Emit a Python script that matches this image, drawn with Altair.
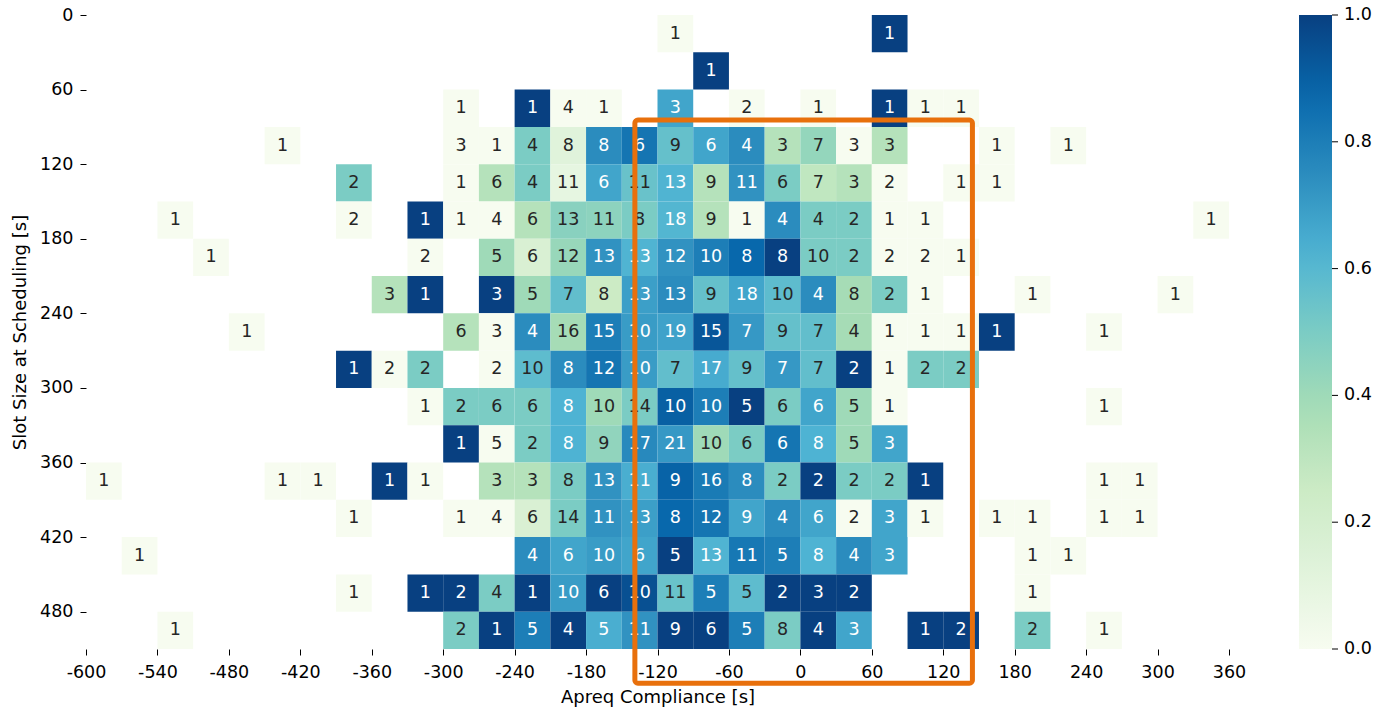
import altair as alt
import pandas as pd

# Slot-size bins (row starts, seconds) and compliance bins (column starts, seconds), 30 s wide
SLOT_BINS = [0, 30, 60, 90, 120, 150, 180, 210, 240, 270, 300, 330, 360, 390, 420, 450, 480]
BIN = 30

# Per slot-size row: compliance bin starts, flight counts, and colour share
row_comp = [
    [-120, 60],
    [-90],
    [-300, -240, -210, -180, -120, -60, 0, 60, 90, 120],
    [-450, -300, -270, -240, -210, -180, -150, -120, -90, -60, -30, 0, 30, 60, 150, 210],
    [-390, -300, -270, -240, -210, -180, -150, -120, -90, -60, -30, 0, 30, 60, 120, 150],
    [-540, -390, -330, -300, -270, -240, -210, -180, -150, -120, -90, -60, -30, 0, 30, 60, 90, 330],
    [-510, -330, -270, -240, -210, -180, -150, -120, -90, -60, -30, 0, 30, 60, 90, 120],
    [-360, -330, -270, -240, -210, -180, -150, -120, -90, -60, -30, 0, 30, 60, 90, 180, 300],
    [-480, -300, -270, -240, -210, -180, -150, -120, -90, -60, -30, 0, 30, 60, 90, 120, 150, 240],
    [-390, -360, -330, -270, -240, -210, -180, -150, -120, -90, -60, -30, 0, 30, 60, 90, 120],
    [-330, -300, -270, -240, -210, -180, -150, -120, -90, -60, -30, 0, 30, 60, 240],
    [-300, -270, -240, -210, -180, -150, -120, -90, -60, -30, 0, 30, 60],
    [-600, -450, -420, -360, -330, -270, -240, -210, -180, -150, -120, -90, -60, -30, 0, 30, 60, 90, 240, 270],
    [-390, -300, -270, -240, -210, -180, -150, -120, -90, -60, -30, 0, 30, 60, 90, 150, 180, 240, 270],
    [-570, -240, -210, -180, -150, -120, -90, -60, -30, 0, 30, 60, 180, 210],
    [-390, -330, -300, -270, -240, -210, -180, -150, -120, -90, -60, -30, 0, 30, 180],
    [-540, -300, -270, -240, -210, -180, -150, -120, -90, -60, -30, 0, 30, 90, 120, 180, 240],
]
row_count = [
    [1, 1],
    [1],
    [1, 1, 4, 1, 3, 2, 1, 1, 1, 1],
    [1, 3, 1, 4, 8, 8, 6, 9, 6, 4, 3, 7, 3, 3, 1, 1],
    [2, 1, 6, 4, 11, 6, 11, 13, 9, 11, 6, 7, 3, 2, 1, 1],
    [1, 2, 1, 1, 4, 6, 13, 11, 8, 18, 9, 1, 4, 4, 2, 1, 1, 1],
    [1, 2, 5, 6, 12, 13, 13, 12, 10, 8, 8, 10, 2, 2, 2, 1],
    [3, 1, 3, 5, 7, 8, 13, 13, 9, 18, 10, 4, 8, 2, 1, 1, 1],
    [1, 6, 3, 4, 16, 15, 10, 19, 15, 7, 9, 7, 4, 1, 1, 1, 1, 1],
    [1, 2, 2, 2, 10, 8, 12, 10, 7, 17, 9, 7, 7, 2, 1, 2, 2],
    [1, 2, 6, 6, 8, 10, 14, 10, 10, 5, 6, 6, 5, 1, 1],
    [1, 5, 2, 8, 9, 17, 21, 10, 6, 6, 8, 5, 3],
    [1, 1, 1, 1, 1, 3, 3, 8, 13, 11, 9, 16, 8, 2, 2, 2, 2, 1, 1, 1],
    [1, 1, 4, 6, 14, 11, 13, 8, 12, 9, 4, 6, 2, 3, 1, 1, 1, 1, 1],
    [1, 4, 6, 10, 6, 5, 13, 11, 5, 8, 4, 3, 1, 1],
    [1, 1, 2, 4, 1, 10, 6, 10, 11, 5, 5, 2, 3, 2, 1],
    [1, 2, 1, 5, 4, 5, 11, 9, 6, 5, 8, 4, 3, 1, 2, 2, 1],
]
row_share = [
    [0, 1],
    [1],
    [0, 1, 0, 0, 0.67, 0, 0, 1, 0, 0],
    [0, 0, 0, 0.5, 0.125, 0.75, 0.83, 0.56, 0.67, 0.75, 0.33, 0.43, 0, 0.33, 0, 0],
    [0.5, 0, 0.33, 0.5, 0.09, 0.67, 0.55, 0.62, 0.33, 0.73, 0.5, 0.29, 0.33, 0, 0, 0],
    [0, 0, 1, 0, 0, 0.33, 0.46, 0.45, 0.5, 0.61, 0.33, 0, 0.75, 0.5, 0.5, 0, 0, 0],
    [0, 0, 0.4, 0.17, 0.42, 0.73, 0.62, 0.73, 0.8, 0.875, 1, 0.5, 0.5, 0, 0, 0],
    [0.33, 1, 1, 0.4, 0.57, 0.25, 0.69, 0.75, 0.56, 0.67, 0.58, 0.75, 0.38, 0.5, 0, 0, 0],
    [0, 0.33, 0, 0.75, 0.38, 0.8, 0.7, 0.68, 0.93, 0.71, 0.56, 0.57, 0.38, 0, 0, 0, 1, 0],
    [1, 0, 0.5, 0, 0.58, 0.75, 0.83, 0.7, 0.57, 0.65, 0.56, 0.71, 0.57, 1, 0, 0.5, 0.5],
    [0, 0.5, 0.5, 0.5, 0.625, 0.4, 0.5, 0.9, 0.8, 1, 0.5, 0.67, 0.4, 0, 0],
    [1, 0, 0.5, 0.625, 0.44, 0.76, 0.71, 0.4, 0.5, 0.83, 0.625, 0.4, 0.67],
    [0, 0, 0, 1, 0, 0.33, 0.33, 0.5, 0.73, 0.64, 0.89, 0.81, 0.75, 0.5, 1, 0.5, 0.5, 1, 0, 0],
    [0, 0, 0, 0.17, 0.5, 0.73, 0.69, 0.875, 0.83, 0.67, 0.75, 0.67, 0, 0.67, 0, 0, 0, 0, 0],
    [0, 0.75, 0.67, 0.7, 0.67, 1, 0.62, 0.82, 0.8, 0.625, 0.75, 0.67, 0, 0],
    [0, 1, 1, 0.5, 1, 0.7, 1, 0.95, 0.55, 0.8, 0.58, 1, 1, 1, 0],
    [0, 0.5, 1, 0.8, 1, 0.64, 0.73, 1, 1, 0.8, 0.5, 1, 0.67, 1, 1, 0.5, 0],
]

# Highlighted compliance window (data units)
box_x = [-139, 144.5]
box_y = [84.5, 537.5]

# GnBu colour ramp, evenly spaced stops
GNBU = ["#f7fcf0", "#e0f3db", "#ccebc5", "#a8ddb5", "#7bccc4",
        "#4eb3d3", "#2b8cbe", "#0868ac", "#084081"]
STOPS = [i / 8 for i in range(9)]
CBAR_TICKS = [0.0, 0.2, 0.4, 0.6, 0.8, 1.0]
FONT = "DejaVu Sans"
TXT = 17.5


def _rgb(h):
    return [int(h[i:i + 2], 16) / 255 for i in (1, 3, 5)]


def ramp(v):
    p = min(max(v, 0), 1) * 8
    i = min(int(p), 7)
    t = p - i
    a, b = _rgb(GNBU[i]), _rgb(GNBU[i + 1])
    return [a[k] + (b[k] - a[k]) * t for k in range(3)]


def text_colour(v):
    lin = [c / 12.92 if c <= 0.03928 else ((c + 0.055) / 1.055) ** 2.4 for c in ramp(v)]
    lum = 0.2126 * lin[0] + 0.7152 * lin[1] + 0.0722 * lin[2]
    return "#262626" if lum > 0.408 else "white"


records = []
for slot, comps, counts, shares in zip(SLOT_BINS, row_comp, row_count, row_share):
    for c, n, s in zip(comps, counts, shares):
        records.append({
            "comp": c, "comp_end": c + BIN, "comp_mid": c + BIN / 2,
            "slot": slot, "slot_end": slot + BIN, "slot_mid": slot + BIN / 2,
            "flights": n, "share": s, "txt": text_colour(s),
        })
df = pd.DataFrame(records)

x_scale = alt.Scale(domain=[-600, 360], nice=False, zero=False)
y_scale = alt.Scale(domain=[0, 510], nice=False, zero=False, reverse=True)

cells = alt.Chart(df).mark_rect().encode(
    x=alt.X("comp:Q", scale=x_scale,
            axis=alt.Axis(values=list(range(-600, 361, 60)), labelExpr="'' + datum.value",
                          labelFlush=False, title="Apreq Compliance [s]",
                          labelPadding=8, titlePadding=8)),
    x2="comp_end:Q",
    y=alt.Y("slot:Q", scale=y_scale,
            axis=alt.Axis(values=list(range(0, 481, 60)), labelExpr="'' + datum.value",
                          labelFlush=False, title="Slot Size at Scheduling [s]",
                          labelPadding=7, titlePadding=10)),
    y2="slot_end:Q",
    color=alt.Color("share:Q",
                    scale=alt.Scale(domain=STOPS, range=GNBU, interpolate="rgb"),
                    legend=alt.Legend(orient="none", legendX=1213, legendY=0, direction="vertical",
                                      gradientLength=634, gradientThickness=33,
                                      gradientStrokeWidth=0, labelExpr="''", labelOpacity=0,
                                      title=None)),
)

labels = alt.Chart(df).mark_text(font=FONT, fontSize=TXT, baseline="middle", align="center").encode(
    x=alt.X("comp_mid:Q", scale=x_scale),
    y=alt.Y("slot_mid:Q", scale=y_scale),
    text="flights:Q",
    color=alt.Color("txt:N", scale=None),
)

box = alt.Chart(pd.DataFrame({"x0": [box_x[0]], "x1": [box_x[1]],
                              "y0": [box_y[0]], "y1": [box_y[1]]})).mark_rect(
    fillOpacity=0, stroke="#e8700c", strokeWidth=5, cornerRadius=3
).encode(
    x=alt.X("x0:Q", scale=x_scale), x2="x1:Q",
    y=alt.Y("y0:Q", scale=y_scale), y2="y1:Q",
)

# Colour-bar ticks and labels on their own 0..1 scale
cbar_df = pd.DataFrame({"v": CBAR_TICKS})
cbar_y = alt.Y("v:Q", scale=alt.Scale(domain=[0, 1]), axis=None)
cbar_ticks = alt.Chart(cbar_df).mark_rule(color="black", strokeWidth=1).encode(
    y=cbar_y, x=alt.value(1246), x2=alt.value(1252),
)
cbar_labels = alt.Chart(cbar_df).mark_text(
    font=FONT, fontSize=TXT, align="left", baseline="middle", color="black"
).encode(
    y=cbar_y, x=alt.value(1258), text=alt.Text("v:Q", format=".1f"),
)
cbar = alt.layer(cbar_ticks, cbar_labels)

heat = alt.layer(cells, labels, box)
chart = alt.layer(heat, cbar).resolve_scale(y="independent").properties(
    width=1143, height=634,
    autosize=alt.AutoSizeParams(type="none"),
    padding={"left": 86, "top": 15, "right": 146, "bottom": 59},
).configure_view(strokeWidth=0).configure_axis(
    labelFont=FONT, titleFont=FONT, labelFontSize=TXT, titleFontSize=18,
    titleFontWeight="normal", labelColor="black", titleColor="black",
    tickColor="black", tickSize=6, domain=False, grid=False,
)

chart.save("out.html", embed_options={"renderer": "svg", "actions": False})
